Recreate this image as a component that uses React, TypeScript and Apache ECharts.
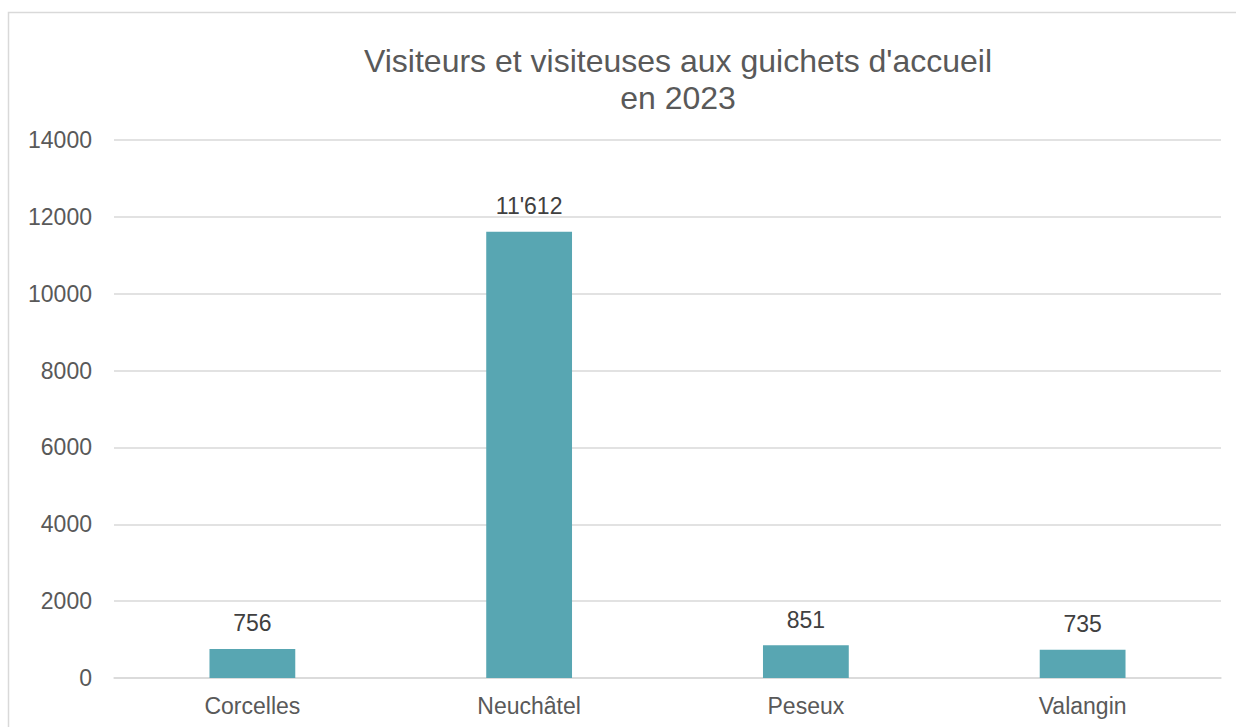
import React, { useEffect, useRef } from "react";
import * as echarts from "echarts";

const categories = ["Corcelles", "Neuchâtel", "Peseux", "Valangin"];
const visitors = [756, 11612, 851, 735];
const titleLines = ["Visiteurs et visiteuses aux guichets d'accueil", "en 2023"];
const yMin = 0;
const yMax = 14000;
const yInterval = 2000;

const fmt = (v: number) => String(v).replace(/\B(?=(\d{3})+(?!\d))/g, "'");

export default function App() {
  const ref = useRef<HTMLDivElement>(null);
  useEffect(() => {
    if (!ref.current) return;
    const chart = echarts.init(ref.current, null, { renderer: "svg" });
    chart.setOption({
      animation: false,
      backgroundColor: "#ffffff",
      textStyle: { fontFamily: "Liberation Sans, Arial, sans-serif" },
      graphic: [
        {
          type: "rect",
          shape: { x: 8.5, y: 12.5, width: 1300, height: 800 },
          style: { fill: "none", stroke: "#d9d9d9", lineWidth: 1.5 },
          silent: true,
          z: -1,
        },
      ],
      title: {
        text: titleLines.join("\n"),
        left: 673,
        top: 37,
        textAlign: "center",
        textStyle: {
          fontSize: 32,
          fontWeight: "normal",
          color: "#595959",
          lineHeight: 37,
          fontFamily: "Liberation Sans, Arial, sans-serif",
        },
      },
      grid: { left: 114, right: 15, top: 140, bottom: 49, containLabel: false },
      xAxis: {
        type: "category",
        data: categories,
        axisLine: { show: true, lineStyle: { color: "#d9d9d9", width: 1.5 } },
        axisTick: { show: false },
        axisLabel: { color: "#595959", fontSize: 23, margin: 16 },
      },
      yAxis: {
        type: "value",
        min: yMin,
        max: yMax,
        interval: yInterval,
        axisLine: { show: false },
        axisTick: { show: false },
        splitLine: { lineStyle: { color: "#d9d9d9", width: 1.5 } },
        axisLabel: {
          color: "#595959",
          fontSize: 23,
          margin: 22,
          formatter: (v: number) => String(v),
        },
      },
      series: [
        {
          type: "bar",
          data: visitors,
          barWidth: "31%",
          itemStyle: { color: "#58a6b2" },
          label: {
            show: true,
            position: "top",
            distance: 14,
            color: "#404040",
            fontSize: 23,
            formatter: (p: any) => fmt(p.value),
          },
        },
      ],
    });
    return () => chart.dispose();
  }, []);
  return (
    <div
      ref={ref}
      style={{ position: "fixed", left: 0, top: 0, width: 1236, height: 727 }}
    />
  );
}
